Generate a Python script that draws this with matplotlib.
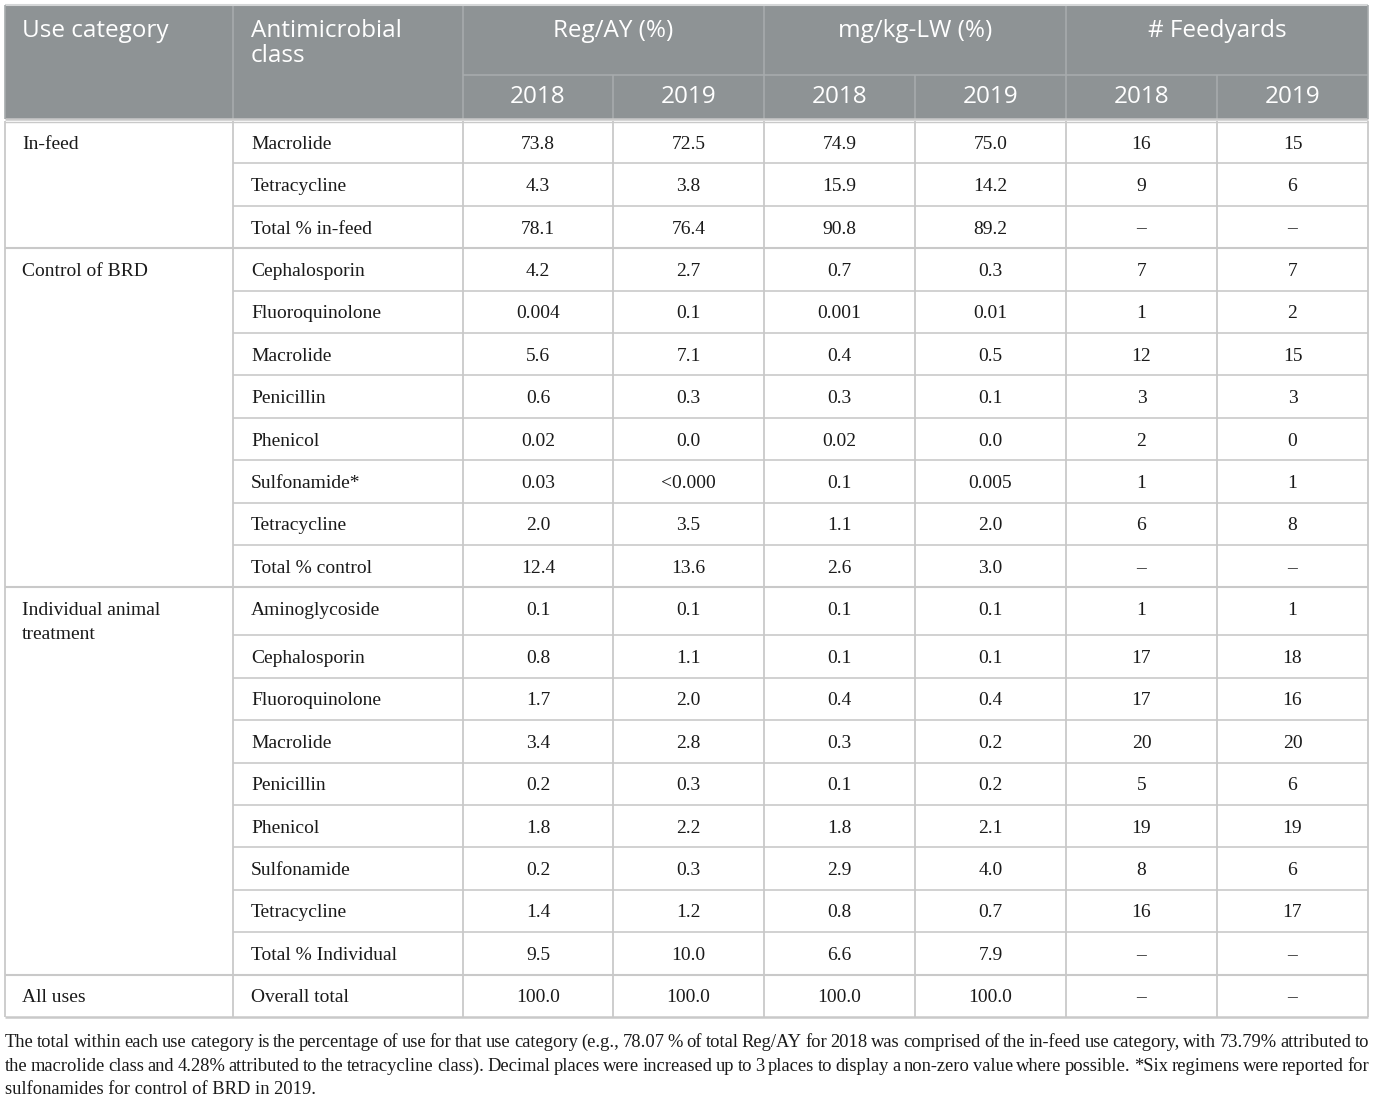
import matplotlib
matplotlib.use("Agg")
import matplotlib.pyplot as plt

# ---------------- data ----------------
groups = ["In-feed", "Control of BRD", "Individual animal\ntreatment", "All uses"]
group_sizes = [3, 8, 9, 1]

classes = ["Macrolide", "Tetracycline", "Total % in-feed",
           "Cephalosporin", "Fluoroquinolone", "Macrolide", "Penicillin", "Phenicol",
           "Sulfonamide*", "Tetracycline", "Total % control",
           "Aminoglycoside", "Cephalosporin", "Fluoroquinolone", "Macrolide", "Penicillin",
           "Phenicol", "Sulfonamide", "Tetracycline", "Total % Individual",
           "Overall total"]
reg_2018 = ["73.8", "4.3", "78.1", "4.2", "0.004", "5.6", "0.6", "0.02", "0.03", "2.0", "12.4",
            "0.1", "0.8", "1.7", "3.4", "0.2", "1.8", "0.2", "1.4", "9.5", "100.0"]
reg_2019 = ["72.5", "3.8", "76.4", "2.7", "0.1", "7.1", "0.3", "0.0", "<0.000", "3.5", "13.6",
            "0.1", "1.1", "2.0", "2.8", "0.3", "2.2", "0.3", "1.2", "10.0", "100.0"]
mg_2018 = ["74.9", "15.9", "90.8", "0.7", "0.001", "0.4", "0.3", "0.02", "0.1", "1.1", "2.6",
           "0.1", "0.1", "0.4", "0.3", "0.1", "1.8", "2.9", "0.8", "6.6", "100.0"]
mg_2019 = ["75.0", "14.2", "89.2", "0.3", "0.01", "0.5", "0.1", "0.0", "0.005", "2.0", "3.0",
           "0.1", "0.1", "0.4", "0.2", "0.2", "2.1", "4.0", "0.7", "7.9", "100.0"]
fy_2018 = ["16", "9", "–", "7", "1", "12", "3", "2", "1", "6", "–",
           "1", "17", "17", "20", "5", "19", "8", "16", "–", "–"]
fy_2019 = ["15", "6", "–", "7", "2", "15", "3", "0", "1", "8", "–",
           "1", "18", "16", "20", "6", "19", "6", "17", "–", "–"]

header_top = ["Use category", "Antimicrobial\nclass"]
header_groups = ["Reg/AY (%)", "mg/kg-LW (%)", "# Feedyards"]
years = ["2018", "2019"]

caption_lines = [
    "The total within each use category is the percentage of use for that use category (e.g., 78.07 % of total Reg/AY for 2018 was comprised of the in-feed use category, with 73.79% attributed to",
    "the macrolide class and 4.28% attributed to the tetracycline class). Decimal places were increased up to 3 places to display a non-zero value where possible. *Six regimens were reported for",
    "sulfonamides for control of BRD in 2019.",
]

# ---------------- layout ----------------
W, H = 1375, 1096
fig = plt.figure(figsize=(W / 100, H / 100), dpi=100)
ax = fig.add_axes([0, 0, 1, 1])
ax.set_xlim(0, W)
ax.set_ylim(H, 0)
ax.axis("off")

xe = [5, 233, 463, 613, 764, 915, 1066, 1217, 1368]
head_top, head_mid, head_bot = 5, 75, 119
body_top = 121
row_h = 42.4
tall_row_h = 48

HDR_BG = "#8e9395"
HDR_LINE = "#a7abad"
LINE = "#c9c9c9"
TXT = "#1a1a1a"
SERIF = ["Liberation Serif", "DejaVu Serif"]
SANS = ["Open Sans", "DejaVu Sans"]
body_fs = 14
cap_fs = 13.3
head_fs = 17.5
dy = 2

# header background
ax.add_patch(plt.Rectangle((xe[0], head_top), xe[-1] - xe[0], head_bot - head_top,
                           facecolor=HDR_BG, edgecolor="none", zorder=1))
# header lines
ax.vlines([xe[1], xe[2]], head_top, head_bot, color=HDR_LINE, lw=1.2, zorder=2)
ax.vlines([xe[4], xe[6]], head_top, head_bot, color=HDR_LINE, lw=1.2, zorder=2)
ax.vlines([xe[3], xe[5], xe[7]], head_mid, head_bot, color=HDR_LINE, lw=1.2, zorder=2)
ax.hlines(head_mid, xe[2], xe[-1], color=HDR_LINE, lw=1.2, zorder=2)

# header text
ax.text(22, 31, header_top[0], color="white", fontsize=head_fs, family=SANS,
        ha="left", va="center", zorder=3)
ax.text(251, 31, "Antimicrobial", color="white", fontsize=head_fs, family=SANS,
        ha="left", va="center", zorder=3)
ax.text(251, 56, "class", color="white", fontsize=head_fs, family=SANS,
        ha="left", va="center", zorder=3)
for g, name in enumerate(header_groups):
    cx = (xe[2 + 2 * g] + xe[4 + 2 * g]) / 2
    ax.text(cx, 31, name, color="white", fontsize=head_fs, family=SANS,
            ha="center", va="center", zorder=3)
    for k, yr in enumerate(years):
        cx2 = (xe[2 + 2 * g + k] + xe[3 + 2 * g + k]) / 2
        ax.text(cx2, 97, yr, color="white", fontsize=head_fs, family=SANS,
                ha="center", va="center", zorder=3)

# body rows
row_edges = [body_top]
for gi, n in enumerate(group_sizes):
    for j in range(n):
        h = tall_row_h if (gi == 2 and j == 0) else row_h
        row_edges.append(row_edges[-1] + h)
body_bot = row_edges[-1]

cols = [classes, reg_2018, reg_2019, mg_2018, mg_2019, fy_2018, fy_2019]

ri = 0
for gi, n in enumerate(group_sizes):
    gtop = row_edges[ri]
    first_cy = (row_edges[ri] + row_edges[ri + 1]) / 2 + dy
    if gi == 2:
        first_cy = row_edges[ri] + row_h / 2 + dy
    if "\n" in groups[gi]:
        for k, part in enumerate(groups[gi].split("\n")):
            ax.text(22, first_cy + 24 * k, part, fontsize=body_fs, family=SERIF, color=TXT,
                    ha="left", va="center", zorder=3)
    else:
        ax.text(22, first_cy, groups[gi], fontsize=body_fs, family=SERIF, color=TXT,
                ha="left", va="center", zorder=3)
    for j in range(n):
        r = ri + j
        cy = (row_edges[r] + row_edges[r + 1]) / 2 + dy
        if gi == 2 and j == 0:
            cy = first_cy
        ax.text(251, cy, cols[0][r], fontsize=body_fs, family=SERIF, color=TXT,
                ha="left", va="center", zorder=3)
        for c in range(1, 7):
            cx = (xe[c + 1] + xe[c + 2]) / 2
            ax.text(cx, cy, cols[c][r], fontsize=body_fs, family=SERIF, color=TXT,
                    ha="center", va="center", zorder=3)
        if j > 0:
            ax.hlines(row_edges[r], xe[1], xe[-1], color=LINE, lw=1.2, zorder=2)
    if gi > 0:
        ax.hlines(gtop, xe[0], xe[-1], color=LINE, lw=1.5, zorder=2)
    ri += n

# body verticals & borders
ax.vlines(xe, body_top, body_bot, color=LINE, lw=1.3, zorder=2)
ax.hlines(body_bot, xe[0], xe[-1], color=LINE, lw=1.8, zorder=2)
ax.hlines(head_bot, xe[0], xe[-1], color=LINE, lw=1.8, zorder=2)
ax.hlines(body_top + 0.5, xe[0], xe[-1], color=LINE, lw=1.0, zorder=2)
ax.hlines(head_top, xe[0], xe[-1], color="#d4d6d7", lw=1.5, zorder=2)
ax.vlines([xe[0], xe[-1]], head_top, head_bot, color=HDR_LINE, lw=1.2, zorder=2)

# caption, justified (baseline aligned)
fig.canvas.draw()
renderer = fig.canvas.get_renderer()
cap_base = [1047, 1071, 1094]
cap_left, cap_right = 5, 1369
for li, line in enumerate(caption_lines):
    if li < len(caption_lines) - 1:
        words = line.split(" ")
        arts = [ax.text(0, cap_base[li], w, fontsize=cap_fs, family=SERIF, color=TXT,
                        ha="left", va="baseline") for w in words]
        widths = [a.get_window_extent(renderer).width for a in arts]
        gap = (cap_right - cap_left - sum(widths)) / (len(words) - 1)
        x = cap_left
        for a, w in zip(arts, widths):
            a.set_x(x)
            x += w + gap
    else:
        ax.text(cap_left, cap_base[li], line, fontsize=cap_fs, family=SERIF, color=TXT,
                ha="left", va="baseline")

fig.savefig("out.png", dpi=100)
